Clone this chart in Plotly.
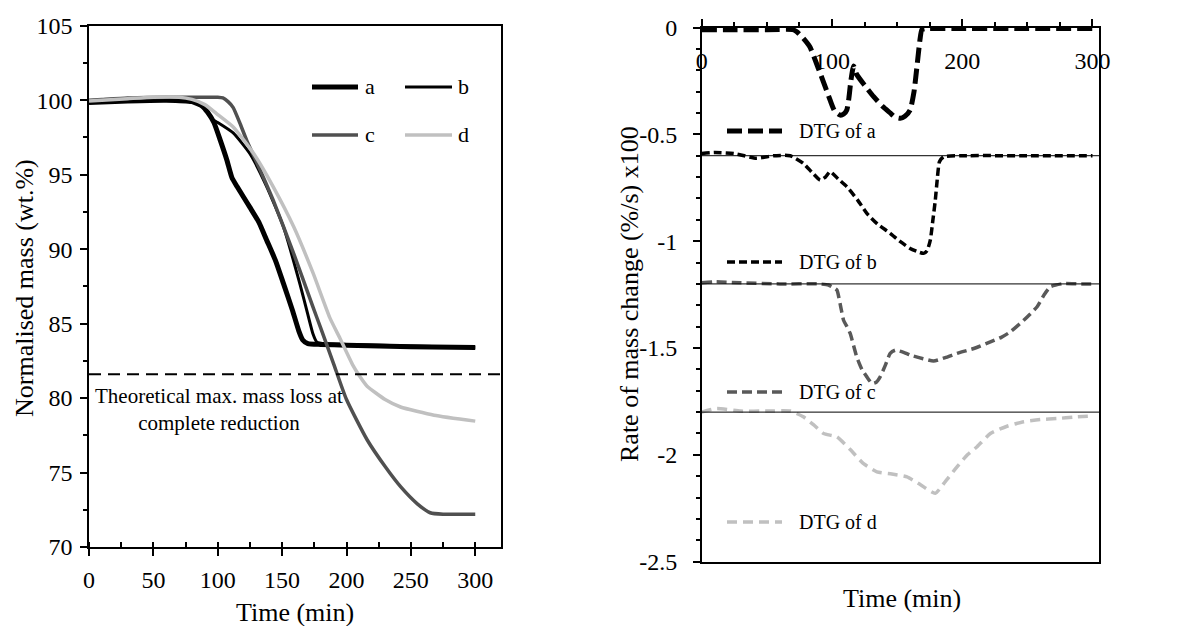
import plotly.graph_objects as go

FONT = '"Liberation Serif", "Times New Roman", serif'

# ---------------- data: left chart (TGA) ----------------
t_a = [0, 10, 30, 60, 80, 88, 92, 97, 102, 107, 111, 115, 120, 125, 132, 138, 145, 151, 158, 163, 166, 170, 180, 200, 250, 300]
m_a = [99.85, 99.88, 99.95, 100.0, 99.9, 99.6, 99.2, 98.5, 97.3, 96.0, 94.8, 94.2, 93.5, 92.8, 91.8, 90.6, 89.2, 87.7, 85.9, 84.5, 83.9, 83.65, 83.6, 83.55, 83.45, 83.4]

t_b = [0, 10, 30, 60, 80, 88, 92, 96, 100, 112, 125, 138, 151, 164, 170, 174, 177, 182, 200, 250, 300]
m_b = [99.85, 99.88, 99.95, 100.0, 99.9, 99.6, 99.2, 98.7, 98.5, 97.8, 96.4, 94.2, 91.5, 87.6, 85.6, 84.3, 83.75, 83.65, 83.6, 83.5, 83.4]

t_c = [0, 10, 30, 60, 90, 100, 104, 108, 112, 117, 122.5, 133, 143, 159, 174, 180, 190, 200, 216, 230, 242, 255, 265, 275, 300]
m_c = [100.0, 100.05, 100.15, 100.2, 100.2, 100.2, 100.15, 99.9, 99.5, 98.5, 97.3, 95.3, 93.3, 89.7, 86.1, 84.7, 82.3, 79.9, 77.2, 75.4, 74.05, 72.9, 72.3, 72.2, 72.2]

t_d = [0, 10, 30, 50, 70, 80, 90, 99, 112, 128, 143, 159, 174, 187, 195, 205, 210, 216, 230, 242, 268, 300]
m_d = [99.95, 100.0, 100.1, 100.2, 100.2, 100.05, 99.7, 99.1, 98.2, 96.4, 94.2, 91.5, 88.4, 85.4, 84.0, 82.2, 81.5, 80.8, 79.9, 79.4, 78.85, 78.45]

theoretical_mass = 81.6

# ---------------- data: right chart (DTG, offset) ----------------
td_a = [0, 20, 50, 70, 73, 78, 83, 87, 91, 95, 98.6, 102, 106.3, 109, 111.4, 113, 114.5, 116.6, 119, 125, 132, 139, 144.7, 148.5, 152.4, 156, 160, 163, 165.3, 167.5, 169, 172, 200, 250, 300]
v_a = [-0.01, -0.01, -0.01, -0.01, -0.02, -0.05, -0.09, -0.15, -0.215, -0.28, -0.34, -0.39, -0.41, -0.405, -0.386, -0.33, -0.25, -0.18, -0.22, -0.27, -0.324, -0.37, -0.40, -0.42, -0.425, -0.415, -0.386, -0.3, -0.18, -0.06, -0.01, -0.005, -0.005, -0.005, -0.005]

td_b = [0, 10, 25, 42, 55, 68, 78, 85, 91, 95, 98.6, 105, 111.4, 120, 126.8, 135, 144.7, 152, 160, 166, 170.3, 173, 175.5, 177.5, 179.3, 181, 182.5, 185.7, 200, 250, 300]
v_b = [-0.59, -0.585, -0.59, -0.612, -0.6, -0.6, -0.636, -0.68, -0.714, -0.7, -0.675, -0.71, -0.745, -0.81, -0.87, -0.92, -0.963, -1.0, -1.034, -1.05, -1.057, -1.045, -0.995, -0.9, -0.81, -0.7, -0.628, -0.605, -0.6, -0.6, -0.6]

td_c = [0, 10, 30, 60, 90, 97.3, 100.5, 103.8, 106.5, 108.9, 111.5, 114, 119, 123, 126.8, 130.7, 134, 137, 141, 144.7, 148.6, 155, 160.1, 170, 178, 187, 196, 210, 221.6, 230, 237, 247.2, 257.5, 263, 267.7, 278, 290, 300]
v_c = [-1.195, -1.19, -1.195, -1.2, -1.2, -1.205, -1.215, -1.229, -1.3, -1.37, -1.4, -1.432, -1.541, -1.6, -1.635, -1.666, -1.66, -1.635, -1.58, -1.525, -1.51, -1.52, -1.533, -1.55, -1.561, -1.545, -1.525, -1.5, -1.471, -1.45, -1.424, -1.37, -1.307, -1.25, -1.213, -1.198, -1.2, -1.2]

td_d = [0, 11.5, 30, 50, 68, 78, 86, 93.5, 103.8, 114, 124, 134.5, 146, 157.6, 168, 179.3, 187, 196, 204, 211.4, 221.6, 234.4, 247.2, 260, 273, 286, 298.5]
v_d = [-1.8, -1.783, -1.795, -1.795, -1.795, -1.822, -1.86, -1.9, -1.916, -1.975, -2.04, -2.08, -2.09, -2.103, -2.14, -2.18, -2.125, -2.056, -2.0, -1.962, -1.90, -1.866, -1.845, -1.835, -1.83, -1.823, -1.818]

dtg_baselines = [-0.6, -1.2, -1.8]

# tick labels
left_x_ticks = [0, 50, 100, 150, 200, 250, 300]
left_y_ticks = [70, 75, 80, 85, 90, 95, 100, 105]
right_x_ticks = [0, 100, 200, 300]
right_y_ticks = [0, -0.5, -1, -1.5, -2, -2.5]
right_y_text = ["0", "-0.5", "-1", "-1.5", "-2", "-2.5"]

tga_names = ["a", "b", "c", "d"]
dtg_names = ["DTG of a", "DTG of b", "DTG of c", "DTG of d"]

# ---------------- figure ----------------
W, H = 1181, 626
def px(x):
    return x / W
def py(y):
    return 1 - y / H

fig = go.Figure()

tga_series = [(t_a, m_a), (t_b, m_b), (t_c, m_c), (t_d, m_d)]
tga_colors = ["#000000", "#000000", "#505050", "#c0c0c0"]
tga_widths = [5, 3, 3.5, 3.5]
for (tx, my), name, col, w in zip(tga_series, tga_names, tga_colors, tga_widths):
    fig.add_trace(go.Scatter(x=tx, y=my, mode="lines", name=name,
                             line=dict(color=col, width=w, shape="spline", smoothing=0.5),
                             xaxis="x", yaxis="y", showlegend=False))

dtg_series = [(td_a, v_a), (td_b, v_b), (td_c, v_c), (td_d, v_d)]
dtg_colors = ["#000000", "#000000", "#595959", "#c0c0c0"]
dtg_widths = [5, 3.5, 3.5, 3.5]
dtg_dash = ["15px,6px", "8px,4px", "10px,5px", "10px,6px"]
for (tx, vy), name, col, w, ds in zip(dtg_series, dtg_names, dtg_colors, dtg_widths, dtg_dash):
    fig.add_trace(go.Scatter(x=tx, y=vy, mode="lines", name=name,
                             line=dict(color=col, width=w, dash=ds, shape="spline", smoothing=0.5),
                             xaxis="x2", yaxis="y2", showlegend=False))

shapes = []
# theoretical line
shapes.append(dict(type="line", xref="x domain", yref="y", x0=0, x1=1,
                   y0=theoretical_mass, y1=theoretical_mass,
                   line=dict(color="black", width=2, dash="12px,7px")))
# DTG baselines
for b in dtg_baselines:
    shapes.append(dict(type="line", xref="x2 domain", yref="y2", x0=0, x1=1, y0=b, y1=b,
                       line=dict(color="black", width=1)))

annotations = []
# left legend (2 columns)
leg_pos = [(312, 358, 363, 87), (405, 452, 456, 87), (312, 358, 363, 135), (405, 452, 456, 135)]
for (x0, x1, xt, yy), name, col, w in zip(leg_pos, tga_names, tga_colors, tga_widths):
    shapes.append(dict(type="line", xref="paper", yref="paper", x0=px(x0), x1=px(x1),
                       y0=py(yy), y1=py(yy), line=dict(color=col, width=w)))
    annotations.append(dict(x=px(xt), y=py(yy), xref="paper", yref="paper", text=name,
                            showarrow=False, xanchor="left", yanchor="middle",
                            font=dict(family=FONT, size=22, color="black")))

# right legend
r_leg_y = [131, 262, 392, 522]
for yy, name, col, w, ds in zip(r_leg_y, dtg_names, dtg_colors, dtg_widths, dtg_dash):
    shapes.append(dict(type="line", xref="paper", yref="paper", x0=px(727), x1=px(782),
                       y0=py(yy), y1=py(yy), line=dict(color=col, width=w, dash=ds)))
    annotations.append(dict(x=px(797), y=py(yy), xref="paper", yref="paper", text=name,
                            showarrow=False, xanchor="left", yanchor="middle",
                            font=dict(family=FONT, size=20, color="black")))

# theoretical text
annotations.append(dict(x=px(219), y=py(409), xref="paper", yref="paper",
                        text="Theoretical max. mass loss at<br>complete reduction",
                        showarrow=False, xanchor="center", yanchor="middle", align="center",
                        font=dict(family=FONT, size=21, color="black")))

# axis titles
annotations.append(dict(x=px(24), y=py(288), xref="paper", yref="paper",
                        text="Normalised mass (wt.%)", textangle=-90, showarrow=False,
                        xanchor="center", yanchor="middle",
                        font=dict(family=FONT, size=26, color="black")))
annotations.append(dict(x=px(295), y=py(612), xref="paper", yref="paper",
                        text="Time (min)", showarrow=False, xanchor="center", yanchor="middle",
                        font=dict(family=FONT, size=26, color="black")))
annotations.append(dict(x=px(629), y=py(294), xref="paper", yref="paper",
                        text="Rate of mass change (%/s) x100", textangle=-90, showarrow=False,
                        xanchor="center", yanchor="middle",
                        font=dict(family=FONT, size=26, color="black")))
annotations.append(dict(x=px(902), y=py(598), xref="paper", yref="paper",
                        text="Time (min)", showarrow=False, xanchor="center", yanchor="middle",
                        font=dict(family=FONT, size=26, color="black")))

tickfont = dict(family=FONT, size=24, color="black")
axis_common = dict(showline=True, linecolor="black", linewidth=1.5, mirror=True,
                   showgrid=False, zeroline=False, tickfont=tickfont, automargin=False,
                   tickcolor="black", tickwidth=1.5)

fig.update_layout(
    width=W, height=H,
    font=dict(family=FONT, color="black"),
    margin=dict(l=0, r=0, t=0, b=0, autoexpand=False),
    paper_bgcolor="white", plot_bgcolor="white",
    showlegend=False,
    shapes=shapes, annotations=annotations,
    xaxis=dict(domain=[px(89), px(501)], range=[0, 320], anchor="y",
               tickmode="array", tickvals=left_x_ticks, ticks="outside", ticklen=7,
               ticklabelstandoff=3,
               minor=dict(dtick=25, tick0=0, ticks="inside", ticklen=5, tickcolor="black", tickwidth=1.5),
               **axis_common),
    yaxis=dict(domain=[py(547), py(25.7)], range=[70, 105], anchor="x",
               tickmode="array", tickvals=left_y_ticks, ticks="outside", ticklen=7,
               ticklabelstandoff=3,
               minor=dict(dtick=2.5, tick0=70, ticks="outside", ticklen=4, tickcolor="black", tickwidth=1.5),
               **axis_common),
    xaxis2=dict(domain=[px(701.7), px(1099)], range=[0, 305], anchor="y2", side="top",
                tickmode="array", tickvals=right_x_ticks, ticks="outside", ticklen=7,
                ticklabelposition="inside", ticklabelstandoff=27, ticklabeloverflow="allow",
                minor=dict(dtick=25, tick0=0, ticks="outside", ticklen=4, tickcolor="black", tickwidth=1.5),
                **axis_common),
    yaxis2=dict(domain=[py(561.7), py(27.5)], range=[-2.5, 0], anchor="x2",
                tickmode="array", tickvals=right_y_ticks, ticktext=right_y_text,
                ticks="outside", ticklen=7, ticklabelstandoff=11, ticklabeloverflow="allow",
                minor=dict(dtick=0.1, tick0=0, ticks="outside", ticklen=4, tickcolor="black", tickwidth=1.5),
                **axis_common),
)

fig.write_html("out.html")
